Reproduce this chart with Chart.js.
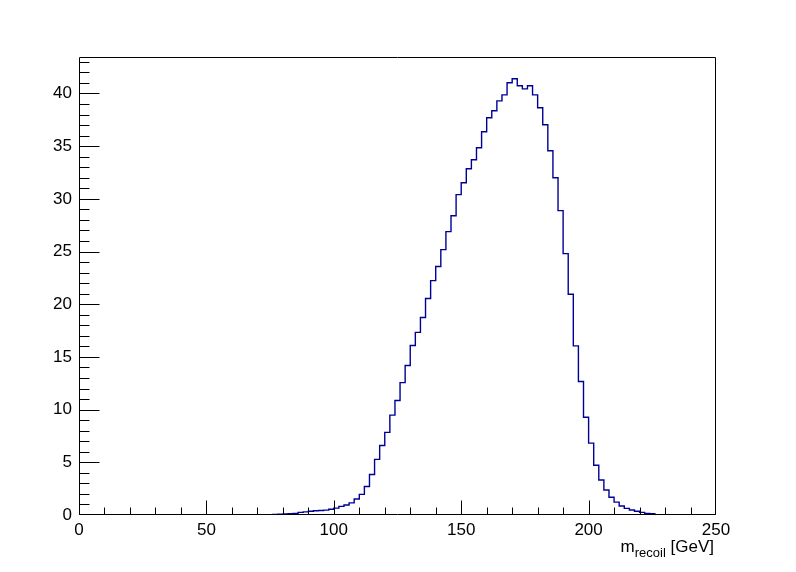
<!DOCTYPE html>
<html>
<head>
<meta charset="utf-8">
<script src="https://cdn.jsdelivr.net/npm/chart.js@4"></script>
<style>
  html, body { margin: 0; padding: 0; background: #fff; }
  #wrap { width: 796px; height: 572px; }
</style>
</head>
<body>
<div id="wrap"><canvas id="recoilChart" width="796" height="572"></canvas></div>
<script>
// histogram: 125 bins of 2 GeV from 0 to 250
const xMin = 0;
const xMax = 250;
const binWidth = 2;
const counts = [
    0, 0, 0, 0, 0, 0, 0, 0, 0, 0,
    0, 0, 0, 0, 0, 0, 0, 0, 0, 0,
    0, 0, 0, 0, 0, 0, 0, 0, 0, 0,
    0, 0, 0, 0, 0, 0, 0, 0,
    0.06, 0.08, 0.10, 0.12, 0.14, 0.25, 0.30, 0.36, 0.40, 0.43,
    0.46, 0.55, 0.65, 0.82, 0.95, 1.15, 1.52, 1.96, 2.70, 3.85,
    5.28, 6.60, 7.84, 9.48, 10.87, 12.56, 14.19, 16.08, 17.33, 18.74,
    20.54, 22.24, 23.58, 25.18, 26.89, 28.40, 30.40, 31.53, 32.86, 33.71,
    34.85, 36.37, 37.69, 38.36, 39.30, 39.87, 41.01, 41.39, 40.73, 40.44,
    40.73, 39.87, 38.64, 37.03, 34.56, 32.00, 28.88, 24.80, 20.95, 16.05,
    12.67, 9.28, 6.82, 4.72, 3.32, 2.37, 1.68, 1.22, 0.85, 0.63,
    0.47, 0.35, 0.25, 0.15, 0.12,
    0, 0, 0, 0, 0, 0, 0, 0, 0, 0, 0, 0
];
const xTicks = [0, 50, 100, 150, 200, 250];
const xMinorTicks = [10, 20, 30, 40, 60, 70, 80, 90, 110, 120, 130, 140, 160, 170, 180, 190, 210, 220, 230, 240];
const yTicks = [0, 5, 10, 15, 20, 25, 30, 35, 40];
const yMinorStep = 1;
const yMax = 43.46;

const fontFamily = '"Liberation Sans", Arial, Helvetica, sans-serif';

// step points: left edge of each bin, then drop at the end
const points = counts.map((c, i) => ({ x: xMin + i * binWidth, y: c }));
points.push({ x: xMax, y: 0 });

// frame, inward ticks and the axis title, ROOT style
const rootFrame = {
    id: 'rootFrame',
    afterDraw(chart) {
        const ctx = chart.ctx;
        const area = chart.chartArea;
        const xs = chart.scales.x;
        const ys = chart.scales.y;
        ctx.save();
        ctx.strokeStyle = '#000';
        ctx.lineWidth = 1;
        ctx.beginPath();
        ctx.rect(Math.round(area.left) + 0.5, Math.round(area.top) + 0.5,
            Math.round(area.right - area.left) - 1, Math.round(area.bottom - area.top) - 1);
        ctx.stroke();

        const bottom = Math.round(area.bottom) - 0.5;
        const left = Math.round(area.left) + 0.5;
        ctx.beginPath();
        xTicks.slice(1, -1).forEach(v => {
            const px = Math.round(xs.getPixelForValue(v)) + 0.5;
            ctx.moveTo(px, bottom);
            ctx.lineTo(px, bottom - 14);
        });
        xMinorTicks.forEach(v => {
            const px = Math.round(xs.getPixelForValue(v)) + 0.5;
            ctx.moveTo(px, bottom);
            ctx.lineTo(px, bottom - 7);
        });
        for (let v = yMinorStep; v <= yMax; v += yMinorStep) {
            const py = Math.round(ys.getPixelForValue(v)) + 0.5;
            const len = yTicks.includes(v) ? 20 : 10;
            ctx.moveTo(left, py);
            ctx.lineTo(left + len, py);
        }
        ctx.stroke();

        // m_recoil [GeV]
        ctx.fillStyle = '#000';
        ctx.textBaseline = 'alphabetic';
        ctx.textAlign = 'left';
        const big = '17px ' + fontFamily;
        const small = '13px ' + fontFamily;
        ctx.font = big;
        const wm = ctx.measureText('m').width;
        const wg = ctx.measureText(' [GeV]').width;
        ctx.font = small;
        const wr = ctx.measureText('recoil').width;
        const x0 = Math.round(area.right) - 2 - (wm + wr + wg);
        const base = 552;
        ctx.font = big;
        ctx.fillText('m', x0, base);
        ctx.font = small;
        ctx.fillText('recoil', x0 + wm, base + 5);
        ctx.font = big;
        ctx.fillText(' [GeV]', x0 + wm + wr, base);
        ctx.restore();
    }
};

function drawChart() {
    const ctx = document.getElementById('recoilChart').getContext('2d');
    new Chart(ctx, {
        type: 'line',
        data: {
            datasets: [{
                data: points,
                stepped: 'before',
                borderColor: 'rgb(0, 0, 150)',
                borderWidth: 1.4,
                pointRadius: 0,
                fill: false
            }]
        },
        options: {
            responsive: false,
            animation: false,
            layout: { padding: { left: 0, top: 57, right: 80, bottom: 0 } },
            plugins: {
                legend: { display: false },
                tooltip: { enabled: false }
            },
            scales: {
                x: {
                    type: 'linear',
                    min: xMin,
                    max: xMax,
                    grid: { display: false, drawTicks: false },
                    border: { display: false },
                    afterBuildTicks: scale => { scale.ticks = xTicks.map(v => ({ value: v })); },
                    afterFit: scale => { scale.height = 57; },
                    ticks: {
                        padding: 5,
                        maxRotation: 0,
                        autoSkip: false,
                        color: '#000',
                        font: { family: fontFamily, size: 17 }
                    }
                },
                y: {
                    type: 'linear',
                    min: 0,
                    max: yMax,
                    grid: { display: false, drawTicks: false },
                    border: { display: false },
                    afterBuildTicks: scale => { scale.ticks = yTicks.map(v => ({ value: v })); },
                    afterFit: scale => { scale.width = 79; },
                    ticks: {
                        padding: 7,
                        autoSkip: false,
                        color: '#000',
                        font: { family: fontFamily, size: 17 }
                    }
                }
            }
        },
        plugins: [rootFrame]
    });
}

document.addEventListener('DOMContentLoaded', drawChart);
</script>
</body>
</html>
